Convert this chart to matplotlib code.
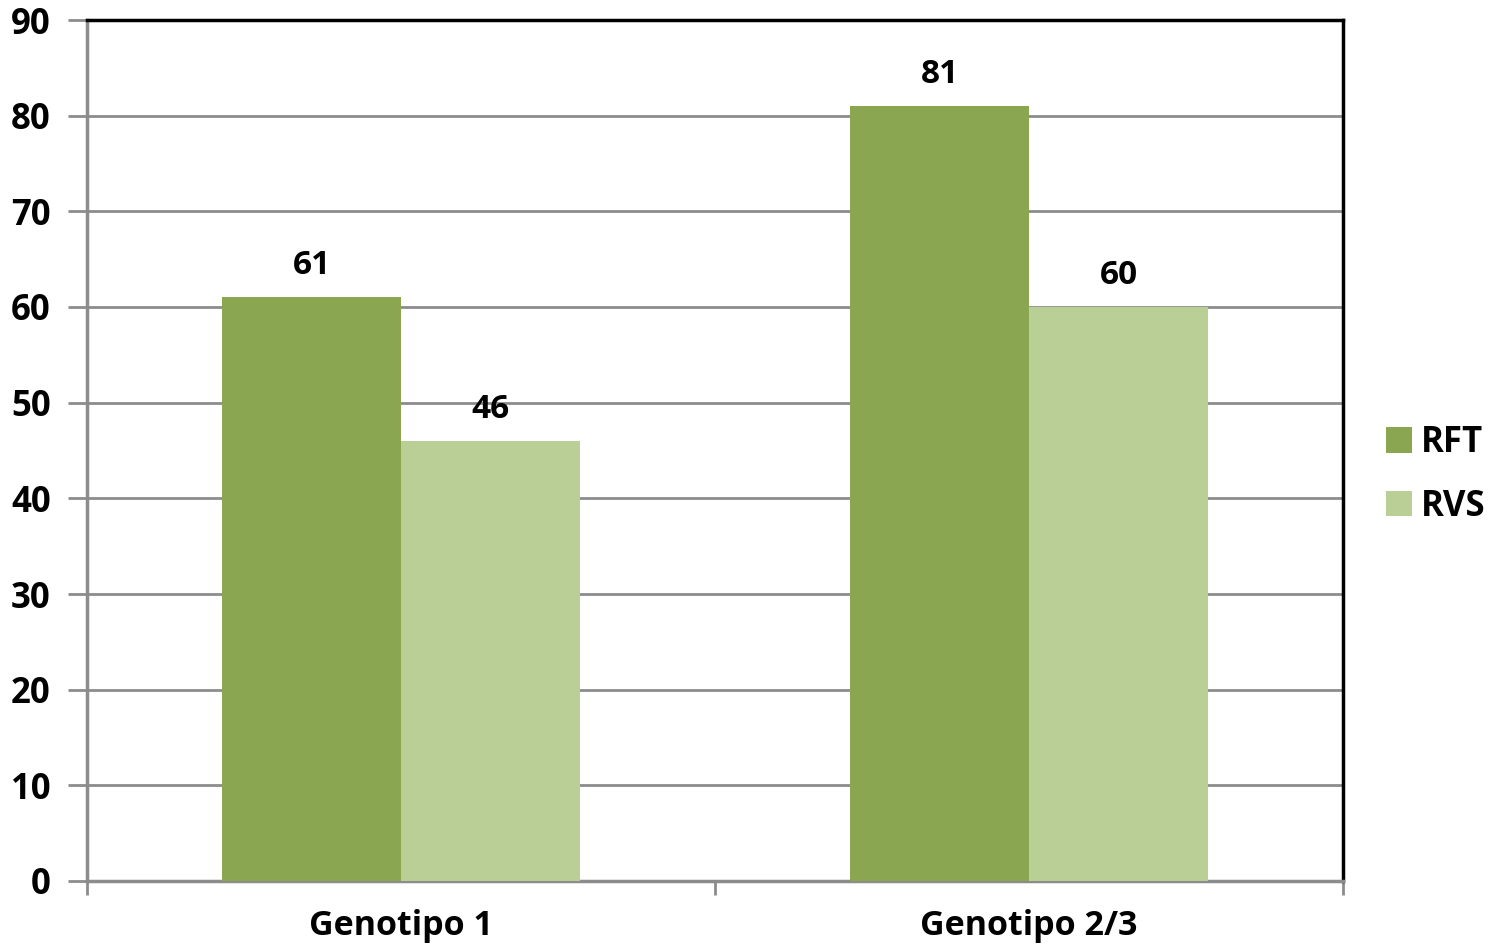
import matplotlib
matplotlib.use("Agg")
import matplotlib.pyplot as plt
import numpy as np

plt.rcParams['font.family'] = ['Open Sans', 'DejaVu Sans']

categories = ['Genotipo 1', 'Genotipo 2/3']
rft = [61, 81]
rvs = [46, 60]
series_names = ['RFT', 'RVS']
colors = ['#8aa651', '#bacf96']
yticks = np.arange(0, 100, 10)

fig = plt.figure(figsize=(14.89, 9.52), dpi=100)
ax = fig.add_axes([87/1489, 1-881/952, (1343-87)/1489, (881-20)/952])

x = np.arange(len(categories))
w = 0.285
b1 = ax.bar(x - w/2, rft, w, color=colors[0], label=series_names[0], zorder=3)
b2 = ax.bar(x + w/2, rvs, w, color=colors[1], label=series_names[1], zorder=3)

for bars in (b1, b2):
    for r in bars:
        ax.text(r.get_x() + r.get_width()/2, r.get_height() + 1.6, str(int(r.get_height())),
                ha='center', va='bottom', fontsize=24, fontweight='bold')

ax.set_xlim(-0.5, 1.5)
ax.set_ylim(0, 90)
ax.set_yticks(yticks)
ax.set_yticklabels([str(v) for v in yticks], fontsize=25, fontweight='bold')
ax.yaxis.grid(True, color='#8c8c8c', linewidth=2, zorder=0)
ax.tick_params(axis='y', length=14, width=2, color='#8c8c8c', pad=12)

ax.set_xticks([-0.5, 0.5, 1.5])
ax.set_xticklabels([])
ax.set_xticks(x, minor=True)
ax.set_xticklabels(categories, minor=True, fontsize=24.5, fontweight='bold')
ax.tick_params(axis='x', which='major', length=10, width=2, color='#8c8c8c')
ax.tick_params(axis='x', which='minor', length=0, pad=20)

for s in ('left', 'bottom'):
    ax.spines[s].set_color('#8c8c8c')
    ax.spines[s].set_linewidth(2.5)
for s in ('top', 'right'):
    ax.spines[s].set_color('black')
    ax.spines[s].set_linewidth(2.5)

leg = ax.legend(loc='center left', bbox_to_anchor=(1386/1489, 1-475/952),
                bbox_transform=fig.transFigure, frameon=False, borderpad=0,
                borderaxespad=0, prop={'size': 25, 'weight': 'bold'},
                handlelength=0.75, handleheight=0.75, handletextpad=0.25,
                labelspacing=0.8)

fig.savefig('out.png', dpi=100)
